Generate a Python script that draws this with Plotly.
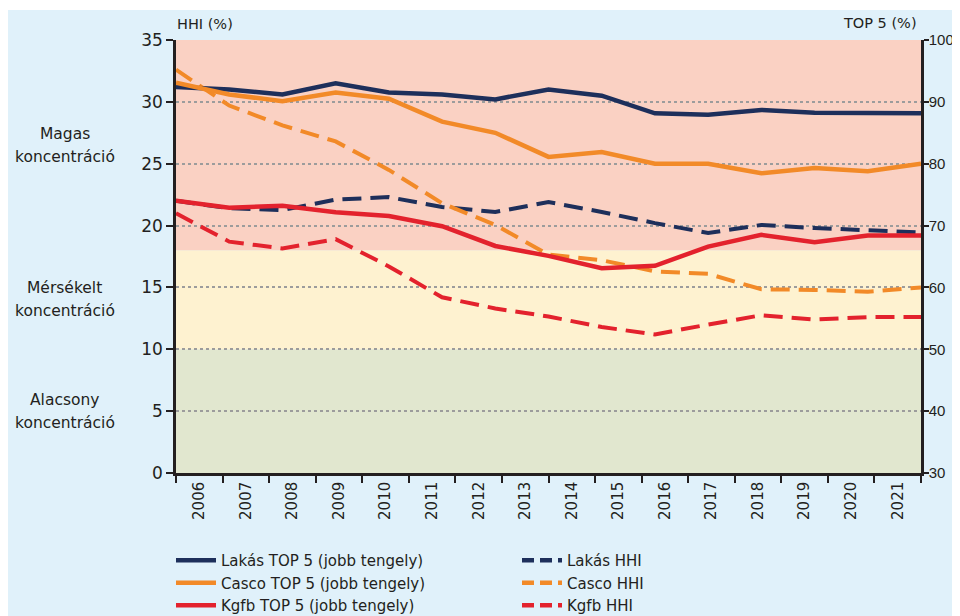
import plotly.graph_objects as go

# ---------------- data ----------------
years = ["2006", "2007", "2008", "2009", "2010", "2011", "2012", "2013",
         "2014", "2015", "2016", "2017", "2018", "2019", "2020", "2021"]

# the series have 15 observations, spread over the full width of the axis
point_index = list(range(15))

lakas_top5 = [92.4, 92.0, 91.2, 93.0, 91.5, 91.2, 90.4, 92.0, 91.0, 88.15, 87.9, 88.7, 88.25, 88.15, 88.15]
casco_top5 = [93.1, 91.2, 90.1, 91.5, 90.5, 86.8, 85.0, 81.1, 81.9, 80.0, 80.0, 78.45, 79.3, 78.8, 80.0]
kgfb_top5 = [74.0, 72.9, 73.2, 72.15, 71.55, 69.9, 66.7, 65.1, 63.1, 63.5, 66.6, 68.5, 67.3, 68.4, 68.4]
lakas_hhi = [22.0, 21.4, 21.25, 22.1, 22.3, 21.5, 21.1, 21.9, 21.1, 20.2, 19.4, 20.05, 19.8, 19.6, 19.45]
casco_hhi = [32.6, 29.7, 28.1, 26.8, 24.5, 21.8, 20.05, 17.65, 17.2, 16.3, 16.1, 14.85, 14.8, 14.65, 15.0]
kgfb_hhi = [21.0, 18.7, 18.15, 18.9, 16.7, 14.2, 13.3, 12.65, 11.8, 11.2, 12.0, 12.75, 12.4, 12.6, 12.6]

# concentration zones on the HHI axis
zone_bounds = [0, 10, 18, 35]
zone_labels = [("Alacsony", "koncentráció"), ("Mérsékelt", "koncentráció"), ("Magas", "koncentráció")]
zone_label_y = [5.0, 14.0, 26.5]

# ---------------- style ----------------
NAVY = "#1d2f5b"
ORANGE = "#f28a28"
RED = "#e3222d"
DARK = "#231f20"
ZONE_COLORS = ["#e1e7cf", "#fef2d0", "#fad1c3"]
BG = "#e0f1fa"
FONT = "DejaVu Sans"
DASH = "19px,9px"
LEGEND_DASH = "12px,6px"

fig = go.Figure()

# dummy trace to establish the category axis of years
fig.add_trace(go.Scatter(x=years, y=[None] * len(years), xaxis="x2", yaxis="y",
                         mode="lines", showlegend=False, hoverinfo="skip"))

traces = [
    ("Lakás HHI", lakas_hhi, NAVY, True, "y", 2),
    ("Casco HHI", casco_hhi, ORANGE, True, "y", 4),
    ("Kgfb HHI", kgfb_hhi, RED, True, "y", 6),
    ("Lakás TOP 5 (jobb tengely)", lakas_top5, NAVY, False, "y2", 1),
    ("Casco TOP 5 (jobb tengely)", casco_top5, ORANGE, False, "y2", 3),
    ("Kgfb TOP 5 (jobb tengely)", kgfb_top5, RED, False, "y2", 5),
]
for name, vals, col, dashed, yax, rank in traces:
    fig.add_trace(go.Scatter(x=point_index, y=vals, name=name, mode="lines",
                             line=dict(color=col, width=4 if dashed else 4.5,
                                       dash=DASH if dashed else "solid"),
                             xaxis="x", yaxis=yax, showlegend=False, hoverinfo="skip"))
    # legend entry (same name / colour, compact dash pattern for the short legend sample)
    fig.add_trace(go.Scatter(x=[None], y=[None], name=name, mode="lines",
                             line=dict(color=col, width=4.5,
                                       dash=LEGEND_DASH if dashed else "solid"),
                             xaxis="x", yaxis=yax, legendrank=rank, showlegend=True))

shapes = [
    # thin white strip at the very top of the panel
    dict(type="rect", xref="paper", yref="paper", x0=-0.5, x1=1.5,
         y0=1 + 30 / 433, y1=1.2, fillcolor="white", line=dict(width=0), layer="below"),
]
for lo, hi, col in zip(zone_bounds[:-1], zone_bounds[1:], ZONE_COLORS):
    shapes.append(dict(type="rect", xref="paper", yref="y", x0=0, x1=1, y0=lo, y1=hi,
                       fillcolor=col, line=dict(width=0), layer="below"))

annotations = []
for (l1, l2), yv in zip(zone_labels, zone_label_y):
    for txt, shift in ((l1, 11.5), (l2, -11.5)):
        annotations.append(dict(text=txt, xref="paper", yref="y", x=(57 - 168) / 745, y=yv,
                                yshift=shift, showarrow=False, xanchor="center",
                                yanchor="middle",
                                font=dict(family=FONT, size=15.5, color=DARK)))
annotations.append(dict(text="HHI (%)", xref="paper", yref="paper", x=-1 / 745, y=1 + 16 / 433,
                        xanchor="left", yanchor="middle", showarrow=False,
                        font=dict(family=FONT, size=14.5, color=DARK)))
annotations.append(dict(text="TOP 5 (%)", xref="paper", yref="paper", x=(911 - 168) / 745,
                        y=1 + 17 / 433, xanchor="right", yanchor="middle", showarrow=False,
                        font=dict(family=FONT, size=14.5, color=DARK)))

axis_font = dict(family=FONT, size=17, color=DARK)

fig.update_layout(
    width=960, height=616,
    margin=dict(l=168, r=47, t=32, b=151, autoexpand=False),
    paper_bgcolor=BG,
    plot_bgcolor="rgba(0,0,0,0)",
    font=dict(family=FONT, color=DARK),
    shapes=shapes,
    annotations=annotations,
    xaxis=dict(range=[0, 14], visible=False, fixedrange=True),
    xaxis2=dict(type="category", overlaying="x", anchor="y", side="bottom",
                range=[-0.5, 15.5], tickson="boundaries", ticks="outside",
                ticklen=7, tickwidth=2, tickcolor=DARK, showline=True,
                linecolor=DARK, linewidth=2.5, showgrid=False, tickangle=-90,
                tickfont=dict(family=FONT, size=15, color=DARK)),
    yaxis=dict(range=[0, 35], dtick=5, tick0=0, showline=True, linecolor=DARK,
               linewidth=2.5, ticks="outside", ticklen=7, tickwidth=2,
               tickcolor=DARK, showgrid=True, gridcolor="#9c9c9c", gridwidth=1.5,
               griddash="dot", zeroline=False, tickfont=axis_font),
    yaxis2=dict(range=[30, 100], dtick=10, tick0=30, overlaying="y", side="right",
                anchor="x", showline=True, linecolor=DARK, linewidth=2.5,
                ticks="outside", ticklen=5, tickwidth=2, tickcolor=DARK,
                ticklabelstandoff=-3,
                showgrid=False, zeroline=False,
                tickfont=dict(family="Liberation Sans", size=15, color=DARK)),
    legend=dict(orientation="h", x=-5 / 745, y=-71 / 433, xanchor="left", yanchor="top",
                entrywidth=291, entrywidthmode="pixels", itemwidth=40,
                bgcolor="rgba(0,0,0,0)",
                font=dict(family=FONT, size=15, color=DARK), traceorder="normal"),
    showlegend=True,
)

fig.write_html("out.html")
